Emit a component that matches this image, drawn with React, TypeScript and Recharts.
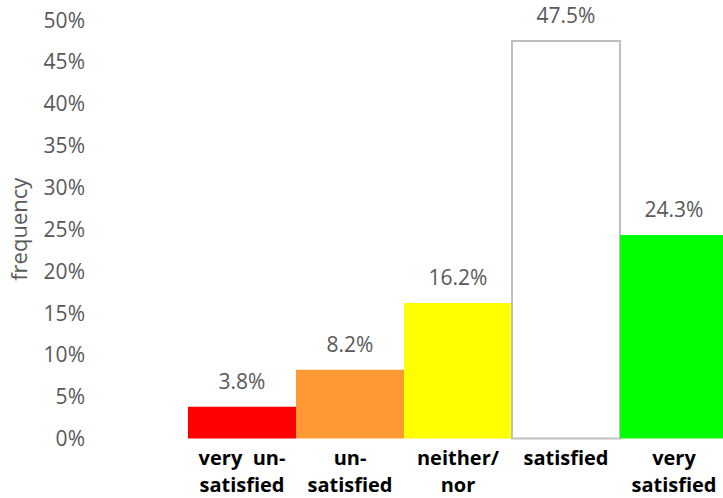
import { BarChart, Bar, XAxis, YAxis, Cell, LabelList } from 'recharts';

const categories = ['', 'very  un-|satisfied', 'un-|satisfied', 'neither/|nor', 'satisfied', 'very|satisfied'];
const shares = [null, 3.8, 8.2, 16.2, 47.5, 24.3];
const barColors = ['#ffffff', '#ff0000', '#ff9933', '#ffff00', '#ffffff', '#00ff00'];
const yTicks = [0, 5, 10, 15, 20, 25, 30, 35, 40, 45, 50];

const data = categories.map((name, i) => ({ name, value: shares[i] }));

const FONT = '"Open Sans", sans-serif';

const YTick = ({ x, y, payload }: any) => (
  <text x={x + 5} y={y} dy="0.36em" textAnchor="end" fill="#595959" fontSize={21} fontFamily={FONT}>
    {payload.value}%
  </text>
);

const XTick = ({ x, payload }: any) => {
  const lines = String(payload.value).split('|');
  return (
    <text x={x} y={465} textAnchor="middle" fill="#000" fontSize={20} fontWeight="bold" fontFamily={FONT} style={{ whiteSpace: 'pre' }}>
      {lines.map((l, i) => (
        <tspan key={i} x={x} y={465 + i * 27}>
          {l}
        </tspan>
      ))}
    </text>
  );
};

const App = () => {
  return (
    <div style={{ position: 'absolute', left: 0, top: 0, width: 723, height: 498, overflow: 'hidden', fontFamily: FONT }}>
      <BarChart width={740} height={498} data={data} margin={{ top: 20, right: 12, bottom: 0, left: 0 }} barCategoryGap={0}>
        <XAxis dataKey="name" height={59.5} axisLine={false} tickLine={false} tickSize={0} tickMargin={0} interval={0} tick={<XTick />} />
        <YAxis
          width={80}
          domain={[0, 50]}
          ticks={yTicks}
          axisLine={false}
          tickLine={false}
          tickSize={0}
          tickMargin={0}
          tick={<YTick />}
          label={{
            value: 'frequency',
            angle: -90,
            position: 'insideLeft',
            offset: 19,
            fill: '#595959',
            fontSize: 22,
            style: { textAnchor: 'middle' },
          }}
        />
        <Bar dataKey="value" isAnimationActive={false}>
          {data.map((d, i) => (
            <Cell key={i} fill={barColors[i]} stroke={i === 4 ? '#bfbfbf' : 'none'} strokeWidth={2} />
          ))}
          <LabelList
            dataKey="value"
            position="top"
            offset={18}
            fill="#595959"
            fontSize={21}
            fontFamily={FONT}
            formatter={(v: any) => (v == null ? '' : `${Number(v).toFixed(1)}%`)}
          />
        </Bar>
      </BarChart>
    </div>
  );
};

export default App;
